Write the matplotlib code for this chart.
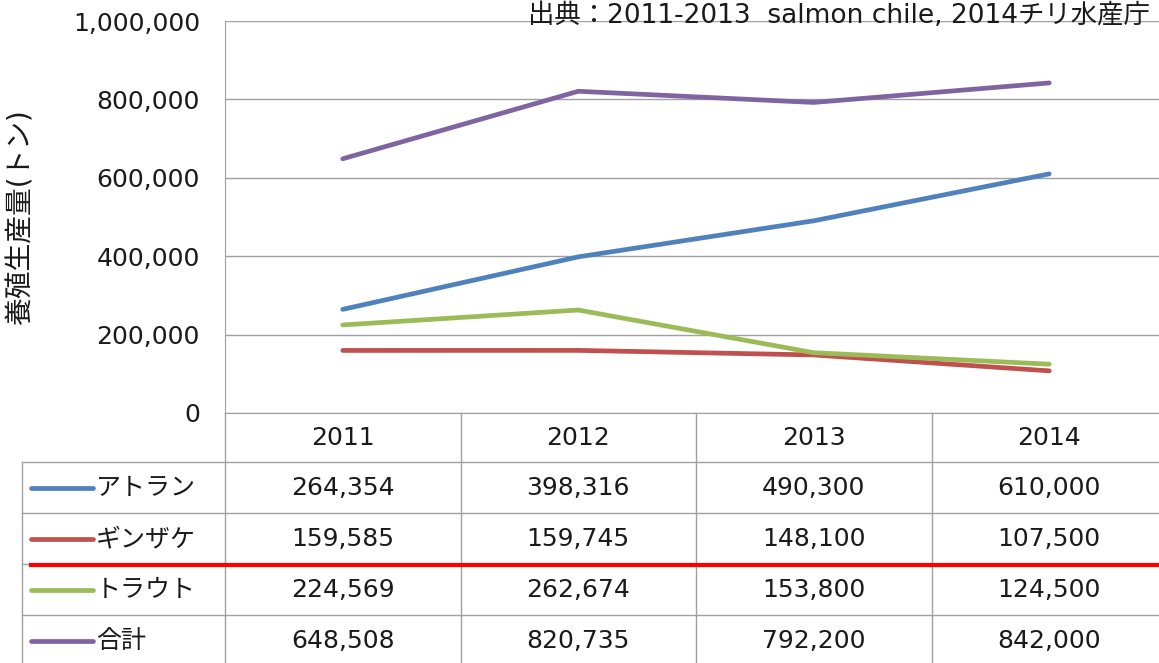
import matplotlib.pyplot as plt
from matplotlib.transforms import blended_transform_factory

plt.rcParams['font.family'] = ['DejaVu Sans', 'Noto Sans CJK JP']

# data
years = ['2011', '2012', '2013', '2014']
series_names = ['アトラン', 'ギンザケ', 'トラウト', '合計']
atlan = [264354, 398316, 490300, 610000]
ginzake = [159585, 159745, 148100, 107500]
trout = [224569, 262674, 153800, 124500]
total = [648508, 820735, 792200, 842000]
series_vals = [atlan, ginzake, trout, total]
colors = ['#4F81BD', '#C0504D', '#9BBB59', '#8064A2']
yticks = [0, 200000, 400000, 600000, 800000, 1000000]

W, H = 1159, 663
grid_c = '#A0A0A0'
txt_c = '#1A1A1A'
fig = plt.figure(figsize=(W / 100, H / 100), dpi=100)

# overlay in pixel coords for the data table
tab = fig.add_axes([0, 0, 1, 1])
tab.set_xlim(0, W)
tab.set_ylim(H, 0)
tab.axis('off')

# chart axes: plot area x=225..1167 (right edge off screen), y=21..413
ax = fig.add_axes([225 / W, (H - 413) / H, (1167 - 225) / W, (413 - 21) / H])
ax.set_xlim(-0.5, len(years) - 0.5)
ax.set_ylim(0, 1000000)
ax.set_yticks(yticks)
ax.set_yticklabels(['{:,}'.format(v) for v in yticks], fontsize=18, color=txt_c)
ax.set_xticks([])
ax.tick_params(axis='y', length=0, pad=18)
ax.grid(axis='y', color=grid_c, lw=1)
for s in ['top', 'right']:
    ax.spines[s].set_visible(False)
ax.spines['left'].set_color(grid_c)
ax.spines['bottom'].set_color(grid_c)
ax.patch.set_alpha(0)

x = list(range(len(years)))
for vals, c in zip(series_vals, colors):
    ax.plot(x, vals, color=c, lw=3.4, solid_capstyle='round')

ax.set_ylabel('養殖生産量(トン)', fontsize=20, color=txt_c)
ax.yaxis.set_label_coords((35 - 225) / 942, 0.5)

# table
tr = blended_transform_factory(ax.transData, tab.transData)
row_lines = [462, 513, 564, 615]
for yy in row_lines:
    tab.plot([22, W], [yy, yy], color=grid_c, lw=1)
tab.plot([22, 22], [462, H], color=grid_c, lw=1)
tab.plot([225, 225], [413, H], color=grid_c, lw=1)
for i in range(len(years)):
    tab.plot([i + 0.5, i + 0.5], [413, H], color=grid_c, lw=1, transform=tr)

for i, yr in enumerate(years):
    tab.text(i, 438, yr, transform=tr, ha='center', va='center', fontsize=18, color=txt_c)

row_centers = [488, 539, 590, 641]
for name, vals, c, yc in zip(series_names, series_vals, colors, row_centers):
    tab.plot([31, 93], [yc, yc], color=c, lw=3.4, solid_capstyle='round')
    tab.text(96, yc, name, ha='left', va='center', fontsize=18, color=txt_c)
    for i, v in enumerate(vals):
        tab.text(i, yc, '{:,}'.format(v), transform=tr, ha='center', va='center',
                 fontsize=18, color=txt_c)

# red annotation line
tab.plot([31, W], [565, 565], color='#FF0000', lw=3.0)

# source note
fig.text(1150 / W, 1 - 23 / H, '出典：2011-2013  salmon chile, 2014チリ水産庁',
         ha='right', va='baseline', fontsize=19, color=txt_c)

fig.savefig('out.png', dpi=100)
